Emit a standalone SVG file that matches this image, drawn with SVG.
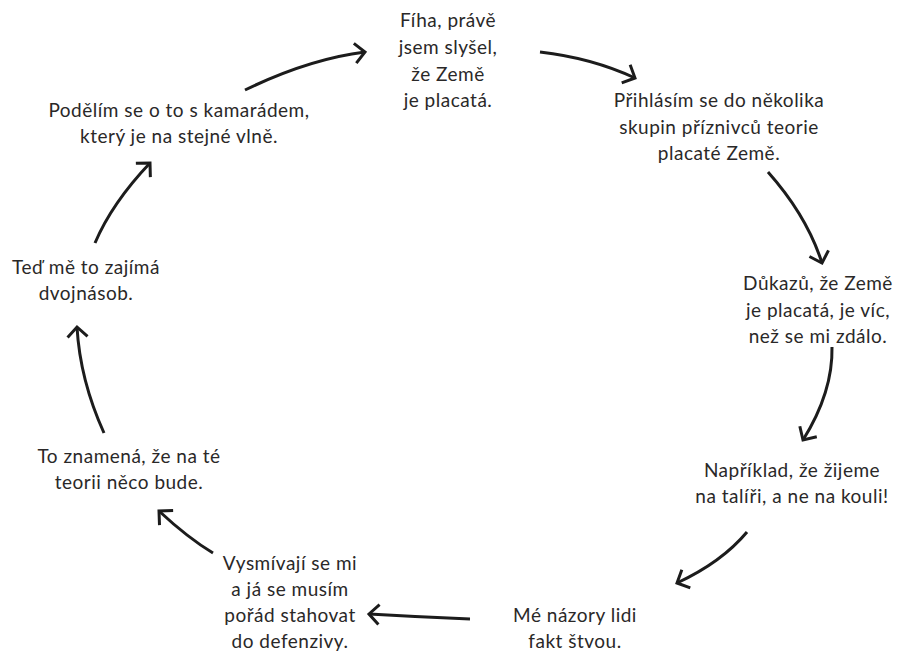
<svg xmlns="http://www.w3.org/2000/svg" width="901" height="652" viewBox="0 0 901 652">
  <style>
    .lbl { font-family: Lato, "Noto Sans", "Liberation Sans", sans-serif; font-size: 19px; letter-spacing: 0.5px; fill: #2a2828; text-anchor: middle; }
    .link { fill: none; stroke: #1c1c1c; stroke-width: 3; stroke-linecap: butt; marker-end: url(#chev); }
  </style>
  <defs>
    <marker id="chev" markerUnits="userSpaceOnUse" markerWidth="30" markerHeight="30" viewBox="-15 -15 30 30" refX="0" refY="0" orient="auto">
      <path d="M-10,-10 L0,0 L-10,10" fill="none" stroke="#1c1c1c" stroke-width="3" stroke-linejoin="miter"/>
    </marker>
  </defs>
  <rect width="901" height="652" fill="#ffffff"/>

  <!-- connectors of the cycle -->
  <g id="connectors">
    <path class="link" d="M245,90 Q309,59 365,52"/>
    <path class="link" d="M540,52 Q592,58 635,78"/>
    <path class="link" d="M768,172 Q807,216 822,263"/>
    <path class="link" d="M832,347 Q833,392 803,440"/>
    <path class="link" d="M747,532 Q722,562 677,583"/>
    <path class="link" d="M470,619 Q420,617 369,614"/>
    <path class="link" d="M213,553 Q188,538 159,511"/>
    <path class="link" d="M104,433 Q80,380 77,327"/>
    <path class="link" d="M95,243 Q112,203 150,163"/>
  </g>

  <g id="n1">
    <text class="lbl"><tspan x="448" y="27">Fíha, právě</tspan><tspan x="448" y="54">jsem slyšel,</tspan><tspan x="448" y="81">že Země</tspan><tspan x="448" y="107">je placatá.</tspan></text>
  </g>
  <g id="n2">
    <text class="lbl"><tspan x="719" y="107">Přihlásím se do několika</tspan><tspan x="719" y="134">skupin příznivců teorie</tspan><tspan x="719" y="160">placaté Země.</tspan></text>
  </g>
  <g id="n3">
    <text class="lbl"><tspan x="818" y="290">Důkazů, že Země</tspan><tspan x="818" y="317">je placatá, je víc,</tspan><tspan x="818" y="343">než se mi zdálo.</tspan></text>
  </g>
  <g id="n4">
    <text class="lbl"><tspan x="792" y="477">Například, že žijeme</tspan><tspan x="792" y="503">na talíři, a ne na kouli!</tspan></text>
  </g>
  <g id="n5">
    <text class="lbl"><tspan x="575" y="622">Mé názory lidi</tspan><tspan x="575" y="648">fakt štvou.</tspan></text>
  </g>
  <g id="n6">
    <text class="lbl"><tspan x="290" y="570">Vysmívají se mi</tspan><tspan x="290" y="596">a já se musím</tspan><tspan x="290" y="622">pořád stahovat</tspan><tspan x="290" y="648">do defenzivy.</tspan></text>
  </g>
  <g id="n7">
    <text class="lbl"><tspan x="129" y="463">To znamená, že na té</tspan><tspan x="129" y="489">teorii něco bude.</tspan></text>
  </g>
  <g id="n8">
    <text class="lbl"><tspan x="86" y="274">Teď mě to zajímá</tspan><tspan x="86" y="300">dvojnásob.</tspan></text>
  </g>
  <g id="n9">
    <text class="lbl"><tspan x="179" y="117">Podělím se o to s kamarádem,</tspan><tspan x="179" y="143">který je na stejné vlně.</tspan></text>
  </g>
</svg>
